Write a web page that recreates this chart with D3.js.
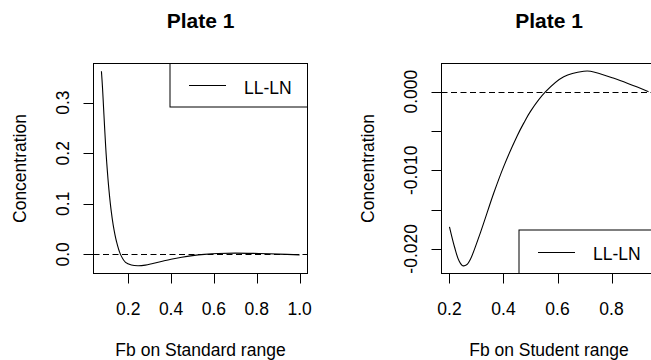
<!DOCTYPE html>
<html>
<head>
<meta charset="utf-8">
<script src="https://cdn.jsdelivr.net/npm/d3@7/dist/d3.min.js"></script>
<style>
body { margin: 0; background: #fff; }
svg text { font-family: "Liberation Sans", Arial, sans-serif; fill: #000; }
.frame { fill: none; stroke: #000; stroke-width: 1; }
.curve { fill: none; stroke: #000; stroke-width: 1.1; }
.zero { stroke: #000; stroke-width: 1; stroke-dasharray: 6,3.5; }
.tick { stroke: #000; stroke-width: 1; }
</style>
</head>
<body>
<div id="chart"></div>
<script>
// Plate 1, standard range
var stdFb   = [0.075, 0.080, 0.085, 0.090, 0.095, 0.100, 0.110, 0.120, 0.130, 0.145, 0.164, 0.1875,
               0.215, 0.245, 0.280, 0.315, 0.364, 0.400, 0.450, 0.500, 0.556, 0.620, 0.700, 0.810, 0.900, 1.000];
var stdConc = [0.362, 0.330, 0.290, 0.250, 0.212, 0.180, 0.128, 0.088, 0.058, 0.026, 0.000, -0.0157,
               -0.0210, -0.0224, -0.0212, -0.0179, -0.0129, -0.0095, -0.0056, -0.0025, 0.0000, 0.0019, 0.0026, 0.0017, 0.0006, -0.0010];

// Plate 1, student range
var stuFb   = [0.200, 0.219, 0.235, 0.249, 0.265, 0.278, 0.315, 0.364, 0.401, 0.451, 0.475, 0.500,
               0.556, 0.623, 0.697, 0.722, 0.809, 0.937];
var stuConc = [-0.0172, -0.0198, -0.0215, -0.02215, -0.0220, -0.0213, -0.0179, -0.0129, -0.0095, -0.0056, -0.0040, -0.0025,
               0.0000, 0.0019, 0.0026, 0.0026, 0.0017, 0.0000];

// ticks
var stdXTicks = [0.2, 0.4, 0.6, 0.8, 1.0];
var stdYTicks = [0.0, 0.1, 0.2, 0.3];
var stdYLabels = ["0.0", "0.1", "0.2", "0.3"];
var stuXTicks = [0.2, 0.4, 0.6, 0.8];
var stuYTicks = [-0.020, -0.015, -0.010, -0.005, 0.000];
var stuYLabels = ["-0.020", "", "-0.010", "", "0.000"];

var seriesName = "LL-LN";

var svg = d3.select("#chart")
  .append("svg")
  .attr("width", 651)
  .attr("height", 360);

// R style axis range: data range plus 4% each side
function rRange(v){
  var ext = d3.extent(v);
  var pad = (ext[1] - ext[0]) * 0.04;
  return [ext[0] - pad, ext[1] + pad];
}

function drawPanel(p){
  var x = d3.scaleLinear().domain(rRange(p.xs)).range([p.left, p.right]);
  var y = d3.scaleLinear().domain(rRange(p.ys)).range([p.bottom, p.top]);
  var g = svg.append("g");

  // clip for the data
  var clipId = "clip" + Math.round(p.left);
  g.append("clipPath").attr("id", clipId)
    .append("rect")
      .attr("x", p.left).attr("y", p.top)
      .attr("width", p.right - p.left).attr("height", p.bottom - p.top);

  // zero reference line
  g.append("line")
    .attr("class", "zero")
    .attr("x1", p.left).attr("x2", p.right)
    .attr("y1", Math.round(y(0)) + 0.5).attr("y2", Math.round(y(0)) + 0.5);

  var pts = p.xs.map(function(d, i){ return [d, p.ys[i]]; });
  var line = d3.line()
    .x(function(d){ return x(d[0]); })
    .y(function(d){ return y(d[1]); })
    .curve(d3.curveCatmullRom.alpha(0.5));
  g.append("path")
    .attr("class", "curve")
    .attr("clip-path", "url(#" + clipId + ")")
    .attr("d", line(pts));

  // frame
  g.append("rect")
    .attr("class", "frame")
    .attr("x", p.left).attr("y", p.top)
    .attr("width", p.right - p.left).attr("height", p.bottom - p.top);

  // x axis
  p.xticks.forEach(function(t){
    var xp = Math.round(x(t)) + 0.5;
    g.append("line").attr("class", "tick")
      .attr("x1", xp).attr("x2", xp)
      .attr("y1", p.bottom).attr("y2", p.bottom + 10);
    g.append("text")
      .attr("x", x(t)).attr("y", p.bottom + 41)
      .attr("text-anchor", "middle")
      .style("font-size", "17.5px")
      .text(d3.format(".1f")(t));
  });

  // y axis
  p.yticks.forEach(function(t, i){
    var yp = Math.round(y(t)) + 0.5;
    g.append("line").attr("class", "tick")
      .attr("x1", p.left - 10).attr("x2", p.left)
      .attr("y1", yp).attr("y2", yp);
    if (p.ylabels[i] !== ""){
      g.append("text")
        .attr("transform", "translate(" + (p.left - 24.5) + "," + y(t) + ") rotate(-90)")
        .attr("text-anchor", "middle")
        .style("font-size", "17.5px")
        .text(p.ylabels[i]);
    }
  });

  // titles
  var cx = (p.left + p.right) / 2;
  g.append("text")
    .attr("x", cx).attr("y", 28)
    .attr("text-anchor", "middle")
    .style("font-size", "21px")
    .style("font-weight", "bold")
    .text(p.title);
  g.append("text")
    .attr("x", cx).attr("y", p.bottom + 82)
    .attr("text-anchor", "middle")
    .style("font-size", "17.5px")
    .text(p.xtitle);
  g.append("text")
    .attr("transform", "translate(" + (p.left - 67.5) + "," + ((p.top + p.bottom) / 2) + ") rotate(-90)")
    .attr("text-anchor", "middle")
    .style("font-size", "17.5px")
    .text("Concentration");

  // legend
  var lw = 137.5, lh = 43.5;
  var lx = p.right - lw;
  var ly = p.legend === "topright" ? p.top : p.bottom - lh;
  g.append("rect")
    .attr("class", "frame")
    .attr("x", lx).attr("y", ly)
    .attr("width", lw).attr("height", lh);
  g.append("line")
    .attr("stroke", "#000")
    .attr("x1", lx + 19).attr("x2", lx + 56)
    .attr("y1", Math.round(ly + lh / 2) + 0.5).attr("y2", Math.round(ly + lh / 2) + 0.5);
  g.append("text")
    .attr("x", lx + 74).attr("y", ly + lh / 2 + 8.5)
    .style("font-size", "17.5px")
    .text(seriesName);
}

drawPanel({
  left: 93.5, right: 307.5, top: 63.5, bottom: 273.5,
  xs: stdFb, ys: stdConc,
  xticks: stdXTicks, yticks: stdYTicks, ylabels: stdYLabels,
  title: "Plate 1", xtitle: "Fb on Standard range", legend: "topright"
});

drawPanel({
  left: 441.5, right: 656.5, top: 63.5, bottom: 273.5,
  xs: stuFb, ys: stuConc,
  xticks: stuXTicks, yticks: stuYTicks, ylabels: stuYLabels,
  title: "Plate 1", xtitle: "Fb on Student range", legend: "bottomright"
});
</script>
</body>
</html>
